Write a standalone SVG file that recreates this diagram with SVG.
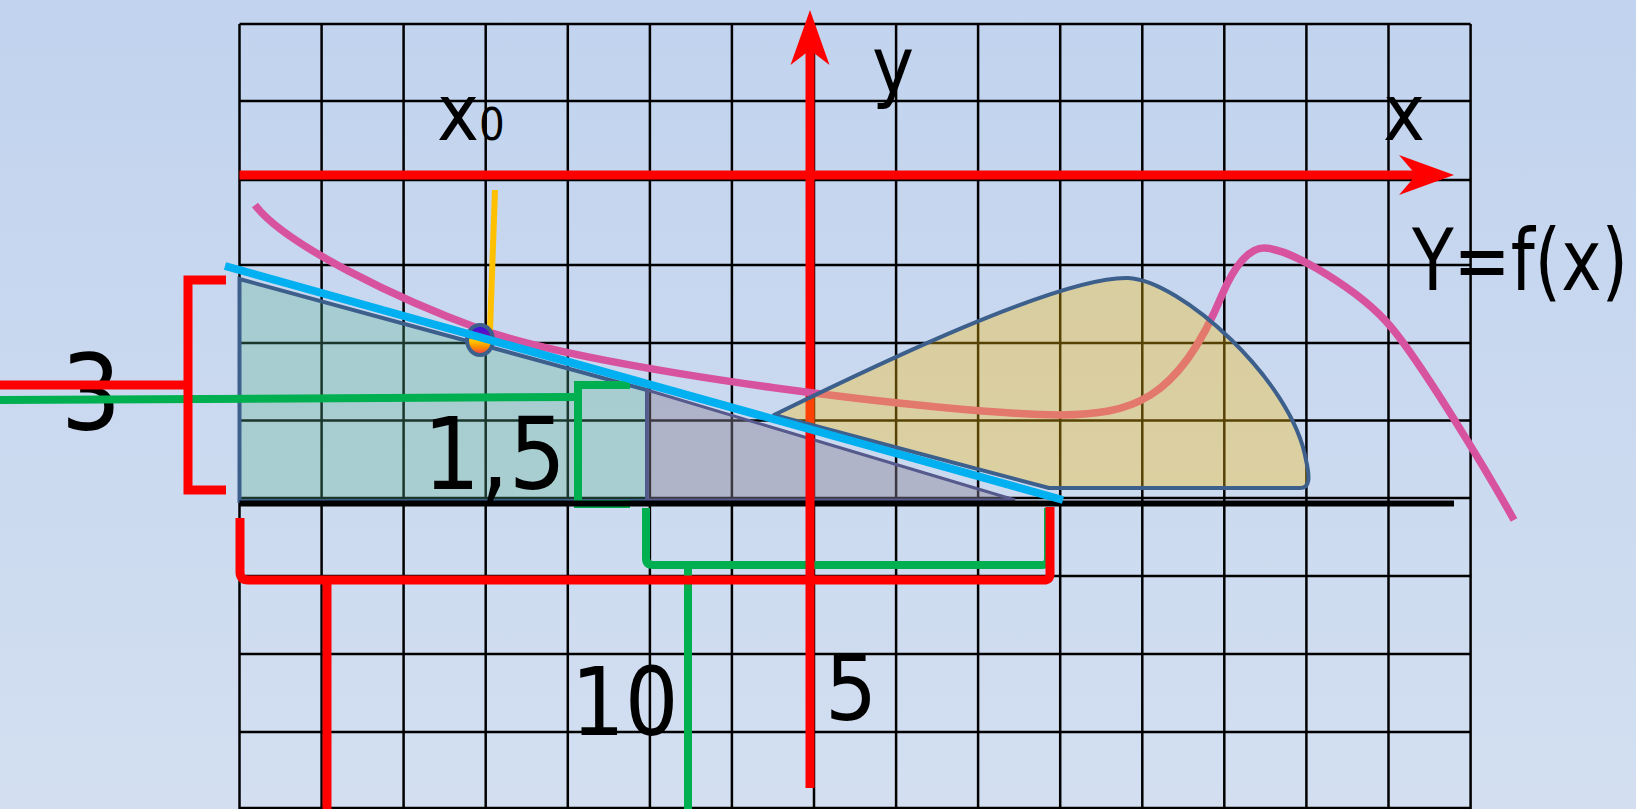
<svg xmlns="http://www.w3.org/2000/svg" width="1636" height="809" viewBox="0 0 1636 809">
<defs>
<linearGradient id="bg" x1="0" y1="0" x2="0" y2="1">
<stop offset="0" stop-color="#c1d3ee"/>
<stop offset="1" stop-color="#d3dff1"/>
</linearGradient>
<linearGradient id="pt" x1="0" y1="0" x2="0" y2="1">
<stop offset="0" stop-color="#2a10f0"/>
<stop offset="0.35" stop-color="#7010b0"/>
<stop offset="0.5" stop-color="#ffd000"/>
<stop offset="0.75" stop-color="#ff8a00"/>
<stop offset="1" stop-color="#f03060"/>
</linearGradient>
<style>
.g{stroke:#000;stroke-width:2.5;fill:none}
.txt{font-family:"DejaVu Sans","Liberation Sans",sans-serif;font-stretch:condensed;fill:#000}
.red{stroke:#ff0000;fill:none;stroke-width:9}
.redf{fill:#ff0000}
.grn{stroke:#00b050;fill:none;stroke-width:8}
.grnf{fill:#00b050}
.edge{stroke:#3d5f8c;stroke-width:4}
</style>
</defs>
<rect width="1636" height="809" fill="url(#bg)"/>
<g id="grid">
<path class="g" d="M239.5 24V809M321.6 24V809M403.6 24V809M485.7 24V809M567.8 24V809M649.9 24V809M731.9 24V809M814 24V809M896.1 24V809M978.1 24V809M1060.2 24V809M1142.3 24V809M1224.3 24V809M1306.4 24V809M1388.5 24V809M1470.6 24V809"/>
<path class="g" d="M239.5 24H1470.6M239.5 101H1470.6M239.5 180H1470.6M239.5 265H1470.6M239.5 343H1470.6M239.5 420.5H1470.6M239.5 498H1470.6M239.5 576H1470.6M239.5 654H1470.6M239.5 732H1470.6M239.5 808H1470.6"/>
</g>
<g id="teal-area">
<polygon points="239.5,279 647,390 647,501 239.5,501" fill="#5ab48c" fill-opacity="0.3" class="edge"/>
</g>
<g id="grey-area">
<polygon points="647,390 1015,500 647,500" fill="#8c8296" fill-opacity="0.43" stroke="#55598c" stroke-width="3"/>
</g>
<g id="labels-back">
<text class="txt" x="61" y="430" font-size="105">3</text>
</g>
<g id="connectors">
<path class="grn" d="M646 508V558Q646 565 653 565H1042Q1048 565 1048 558V508"/>
<path class="grn" d="M688 566V809"/>
<path class="grnf" d="M680 565Q688 567 688 580Q688 567 696 565Z"/>
<path class="grn" d="M630 385H578V504H630"/>
<path class="grn" d="M0 400L578 397"/>
<path class="red" stroke-width="10" d="M226 280H188V490H226M0 385H188"/>
<path class="red" d="M240 518V572Q240 580 248 580H1044Q1050 580 1050 574V507"/>
<path class="red" d="M327 580V809"/>
<path class="redf" d="M318 580Q327 582 327 595Q327 582 336 580Z"/>
<path d="M239.5 503.5H1454" stroke="#000" stroke-width="6"/>
</g>
<g id="axes">
<path class="red" stroke-width="8" d="M239.5 175H1420"/>
<polygon class="redf" points="1454,175 1399,155 1416,175 1399,195"/>
<path class="red" stroke-width="8" d="M810 788V48"/>
<polygon class="redf" points="810,10 790.5,65 810,50 829.5,65"/>
</g>
<g id="curve">
<path d="M255 205C285 245 400 300 480 329C600 372 950 414 1060 415C1130 414 1177 403 1222 295C1234 266.2 1249 248 1264 248C1290 248 1361 291 1391 327C1421 363 1484 466 1514 520" fill="none" stroke="#d8539f" stroke-width="7.5"/>
</g>
<g id="gold-area">
<path d="M774 415C870 368 1060 276 1128 278C1180 280 1292 380 1306 460C1310 478 1310 488 1300 488L1049 488Z" fill="#f8bd0e" fill-opacity="0.35" class="edge" stroke-linejoin="round"/>
</g>
<g id="point">
<path d="M495 190L490 330" stroke="#ffc000" stroke-width="6" fill="none"/>
<ellipse cx="480" cy="340" rx="13" ry="15" fill="url(#pt)" class="edge"/>
</g>
<g id="tangent">
<path d="M225 266L1063 500" stroke="#00b0f0" stroke-width="8" fill="none"/>
</g>
<g id="labels">
<text class="txt" x="437" y="140" font-size="79">x<tspan font-size="45">0</tspan></text>
<text class="txt" x="872" y="93" font-size="79">y</text>
<text class="txt" x="1383" y="140" font-size="79">x</text>
<text class="txt" x="1412" y="290" font-size="85" textLength="216" lengthAdjust="spacingAndGlyphs">Y=f(x)</text>
<text class="txt" x="423" y="489" font-size="100">1,5</text>
<text class="txt" x="571" y="735" font-size="94">10</text>
<text class="txt" x="825" y="720" font-size="91">5</text>
</g>
</svg>
